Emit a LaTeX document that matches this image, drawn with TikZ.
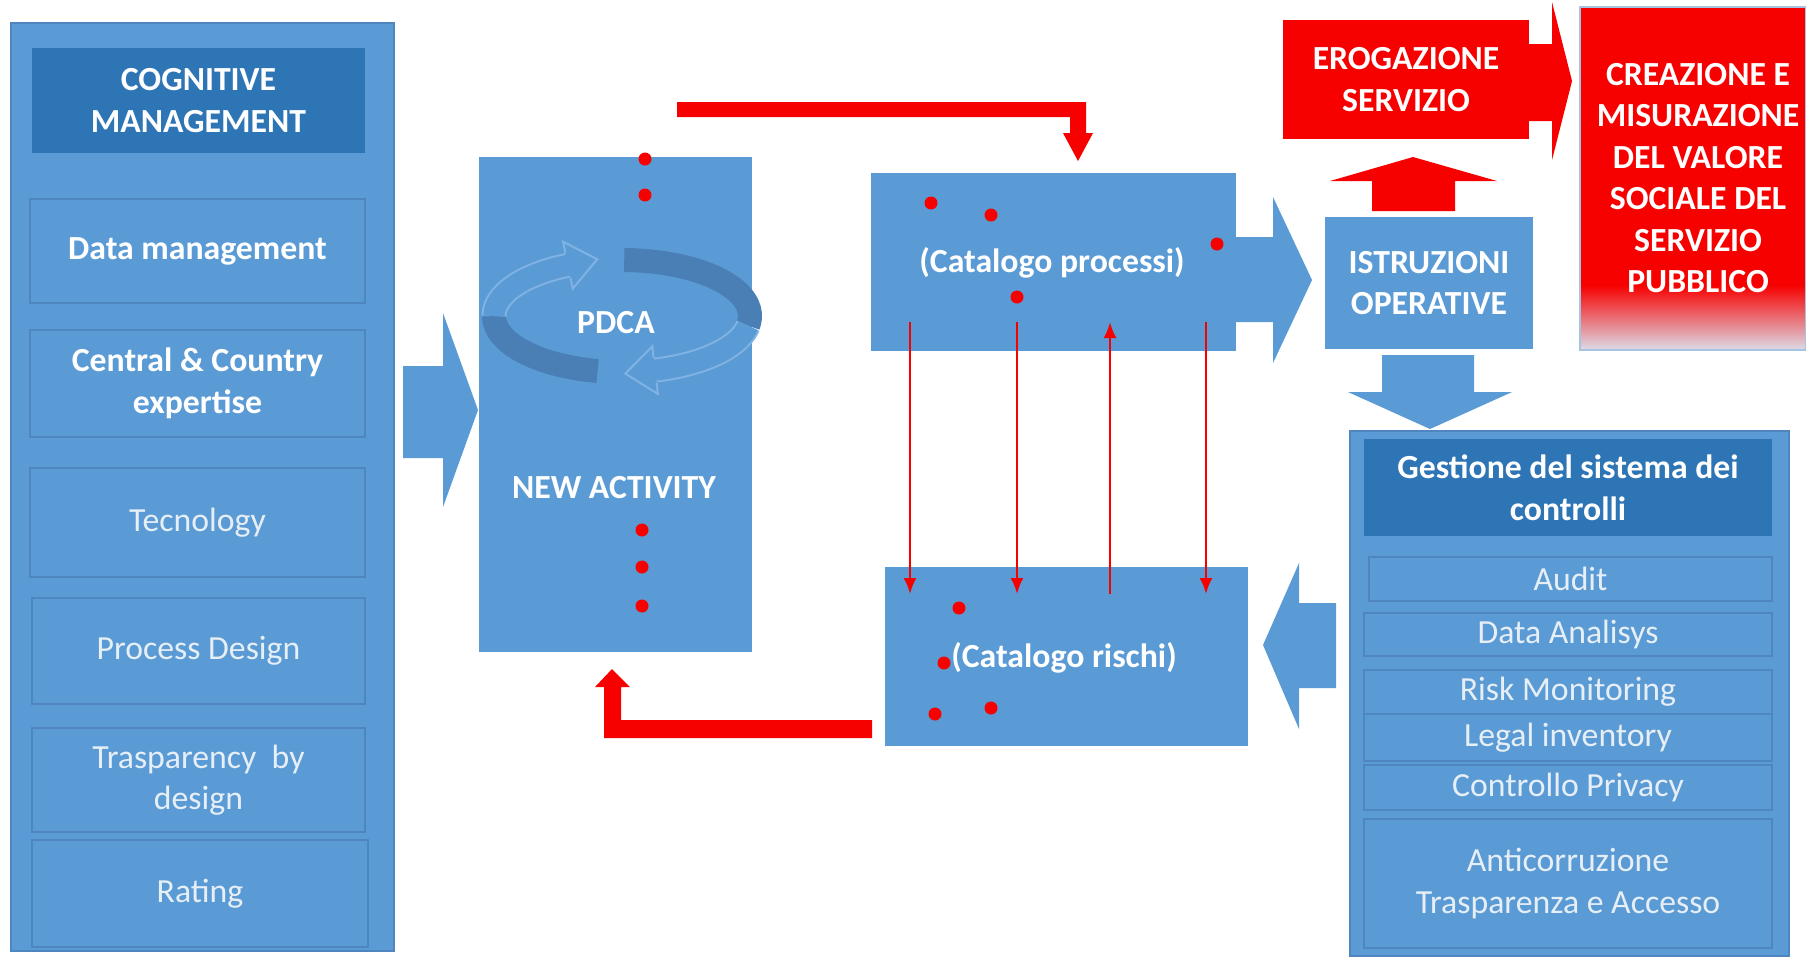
\documentclass[tikz,border=0pt]{standalone}
\usepackage{fontspec}
\setmainfont{Carlito}
\usepackage{xcolor}
\usepackage{tikz}
\usetikzlibrary{arrows.meta, calc}

\definecolor{boxblue}{HTML}{5B9BD5}
\definecolor{headblue}{HTML}{2E75B6}
\definecolor{lineblue}{HTML}{4F86C0}
\definecolor{cycblue}{HTML}{4A7FB6}
\definecolor{cycline}{HTML}{80B3E3}
\definecolor{alertred}{HTML}{F70000}
\definecolor{softwhite}{HTML}{E6EEF6}
\definecolor{palered}{HTML}{DCDCE8}

\begin{document}
\begin{tikzpicture}[x=0.1mm, y=-0.1mm,
    outerbox/.style={fill=boxblue, draw=lineblue, line width=0.2mm},
    headbox/.style={fill=headblue},
    subbox/.style={fill=boxblue, draw=lineblue, line width=0.25mm},
    redbox/.style={fill=alertred},
    blockblue/.style={fill=boxblue},
    blockred/.style={fill=alertred},
    lbl/.style={text=white, align=center, font={\fontsize{9.6}{11.8}\selectfont\bfseries}},
    item/.style={text=softwhite, align=center, font={\fontsize{9.6}{11.8}\selectfont}},
    redlink/.style={draw=alertred, line width=0.25mm, -{Latex[length=1.6mm,width=1.3mm]}},
    dot/.style={fill=alertred}]

    % Canvas
    \fill[white] (0,0) rectangle (1806,956);
    \useasboundingbox (0,0) rectangle (1806,956);

    % Cognitive management column
    \filldraw[outerbox] (11,23) rectangle (394,951);
    \fill[headbox] (32,48) rectangle (365,153) node[midway, lbl] (cogn) {COGNITIVE\\MANAGEMENT};
    \filldraw[subbox] (30,199) rectangle (365,303) node[midway, lbl] (datam) {Data management};
    \filldraw[subbox] (30,330) rectangle (365,437) node[midway, lbl] (central) {Central \& Country\\expertise};
    \filldraw[subbox] (30,468) rectangle (365,577) node[midway, item] (tecno) {Tecnology};
    \filldraw[subbox] (32,598) rectangle (365,704) node[midway, item] (procd) {Process Design};
    \filldraw[subbox] (32,728) rectangle (365,832) node[midway, item] (trasp) {Trasparency~ by\\design};
    \filldraw[subbox] (32,840) rectangle (368,947) node[midway, item] (rating) {Rating};

    % Arrow into PDCA
    \fill[blockblue] (403,366) -- (443,366) -- (443,313) -- (478,410) -- (443,507) -- (443,458) -- (403,458) -- cycle;

    % PDCA box and cycle
    \fill[blockblue] (479,157) rectangle (752,652);
    \draw[cycblue, line width=2.4mm] plot[domain=101:180, samples=25, smooth] ({622+128*cos(\x)},{316+56*sin(\x)});
    \draw[cycline, line width=0.2mm, double=boxblue, double distance=2.1mm] plot[domain=180:245, samples=20, smooth] ({622+128*cos(\x)},{316+56*sin(\x)});
    \filldraw[cycline, fill=boxblue, line width=0.2mm] (570.4,277.5) -- (572.7,288.7) -- (597.3,259.2) -- (563.1,241.7) -- (565.4,252.9);
    \draw[cycblue, line width=2.4mm] plot[domain=271:370, samples=25, smooth] ({622+128*cos(\x)},{316+56*sin(\x)});
    \draw[cycline, line width=0.2mm, double=boxblue, double distance=2.1mm] plot[domain=370:435, samples=20, smooth] ({622+128*cos(\x)},{316+56*sin(\x)});
    \filldraw[cycline, fill=boxblue, line width=0.2mm] (656.6,382.5) -- (657.9,393.9) -- (625.3,373.6) -- (652.3,346.3) -- (653.6,357.7);
    \node[lbl] (pdca) at (616,323) {PDCA};
    \node[lbl] (newact) at (614,488) {NEW ACTIVITY};
    \foreach \p in {(645,159),(645,195),(642,530),(642,567),(642,606)}
        \fill[dot] \p circle (6.5);

    % Feedback arrows
    \fill[blockred] (677,102) -- (1086,102) -- (1086,133) -- (1093,133) -- (1078,161) -- (1063,133) -- (1070,133) -- (1070,117) -- (677,117) -- cycle;
    \fill[blockred] (872,720) -- (621,720) -- (621,687) -- (630,687) -- (612,669) -- (595,687) -- (604,687) -- (604,738) -- (872,738) -- cycle;

    % Catalogues
    \fill[blockblue] (871,173) rectangle (1236,351) node[midway, lbl] (proc) {};
    \node[lbl] (proctxt) at (1052,263) {(Catalogo processi)};
    \fill[blockblue] (885,567) rectangle (1248,746) node[midway, lbl] (risk) {};
    \node[lbl] (risktxt) at (1064,658) {(Catalogo rischi)};
    \foreach \p in {(931,203),(991,215),(1217,244),(1017,297),(959,608),(944,663),(935,714),(991,708)}
        \fill[dot] \p circle (6.5);

    % Links between catalogues
    \coordinate (p1) at (910,322);  \coordinate (r1) at (910,594);
    \coordinate (p2) at (1017,322); \coordinate (r2) at (1017,594);
    \coordinate (p3) at (1110,322); \coordinate (r3) at (1110,594);
    \coordinate (p4) at (1206,322); \coordinate (r4) at (1206,594);
    \draw[redlink] (p1) -- (r1);
    \draw[redlink] (p2) -- (r2);
    \draw[redlink] (r3) -- (p3);
    \draw[redlink] (p4) -- (r4);

    % Istruzioni operative
    \fill[blockblue] (1236,237) -- (1273,237) -- (1273,197) -- (1312,280) -- (1273,363) -- (1273,322) -- (1236,322) -- cycle;
    \fill[blockblue] (1325,217) rectangle (1533,349) node[midway, lbl] (istr) {ISTRUZIONI\\OPERATIVE};
    \fill[blockred] (1372,211) -- (1372,181) -- (1330,181) -- (1413,157) -- (1497,181) -- (1455,181) -- (1455,211) -- cycle;
    \fill[blockblue] (1382,355) -- (1474,355) -- (1474,392) -- (1512,392) -- (1430,429) -- (1348,392) -- (1382,392) -- cycle;

    % Service and value
    \fill[redbox] (1283,20) rectangle (1529,139) node[midway, lbl] (erog) {EROGAZIONE\\SERVIZIO};
    \fill[blockred] (1529,44) -- (1552,44) -- (1552,2) -- (1572,81) -- (1552,160) -- (1552,121) -- (1529,121) -- cycle;
    \fill[redbox] (1580,7) rectangle (1806,286);
    \shade[top color=alertred, bottom color=palered] (1580,285) rectangle (1806,350);
    \draw[lineblue!50, line width=0.2mm] (1580,7) rectangle (1806,350);
    \node[lbl] (creaz) at (1698,178) {CREAZIONE E\\MISURAZIONE\\DEL VALORE\\SOCIALE DEL\\SERVIZIO\\PUBBLICO};

    % Gestione del sistema dei controlli
    \fill[blockblue] (1336,603) -- (1299,603) -- (1299,563) -- (1263,645) -- (1299,729) -- (1299,688) -- (1336,688) -- cycle;
    \filldraw[outerbox] (1350,431) rectangle (1789,956);
    \fill[headbox] (1364,439) rectangle (1772,536) node[midway, lbl] (gest) {Gestione del sistema dei\\controlli};
    \filldraw[subbox] (1369,557) rectangle (1772,601) node[midway, item] (audit) {Audit};
    \filldraw[subbox] (1364,613) rectangle (1772,656) node[midway, item] (data) {Data Analisys};
    \filldraw[subbox] (1364,670) rectangle (1772,714) node[midway, item] (monit) {Risk Monitoring};
    \filldraw[subbox] (1364,714) rectangle (1772,761) node[midway, item] (legal) {Legal inventory};
    \filldraw[subbox] (1364,765) rectangle (1772,810) node[midway, item] (priv) {Controllo Privacy};
    \filldraw[subbox] (1364,819) rectangle (1772,948) node[midway, item] (anti) {Anticorruzione\\Trasparenza e Accesso};
\end{tikzpicture}
\end{document}
